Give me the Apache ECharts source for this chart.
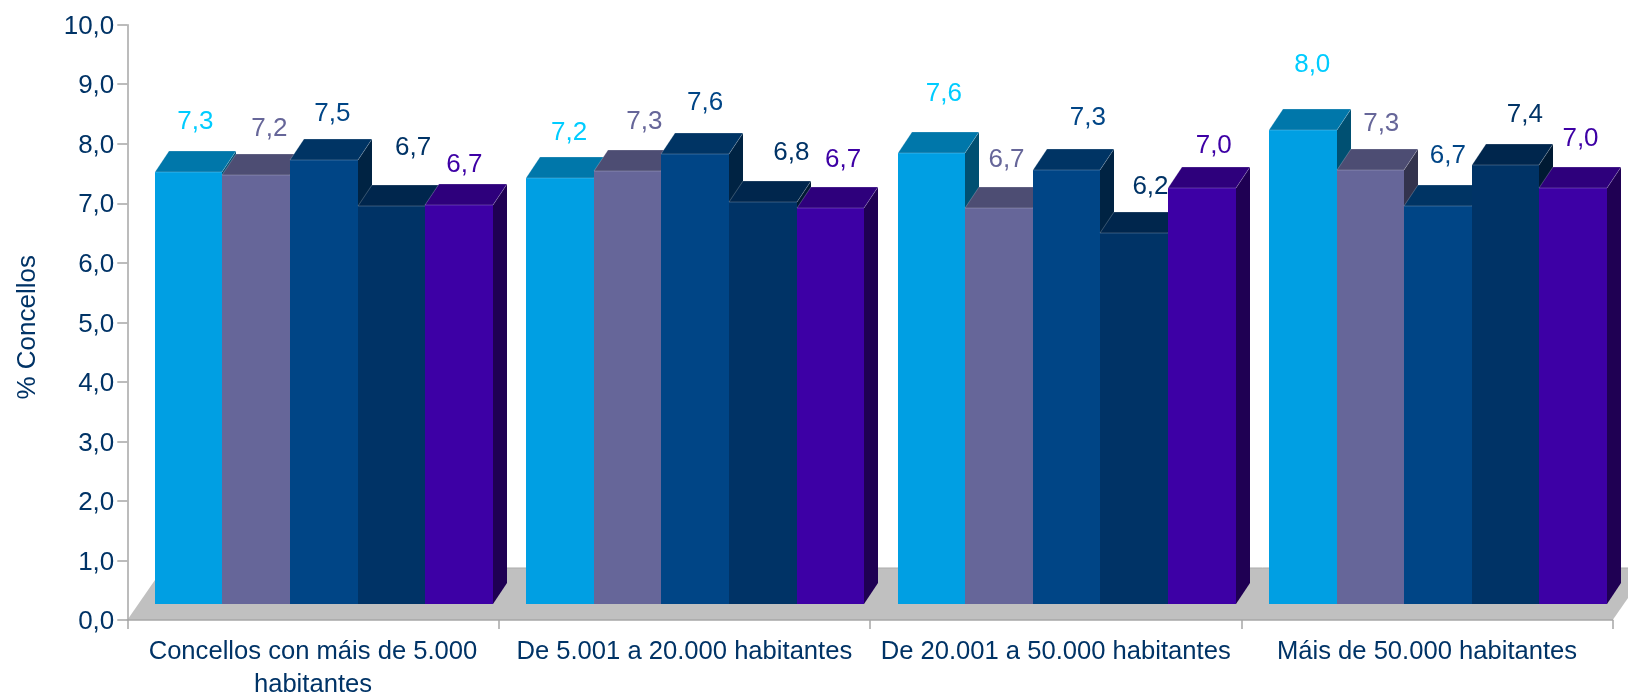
<!DOCTYPE html>
<html>
<head>
<meta charset="utf-8">
<style>html,body{margin:0;padding:0;background:#fff}#c{width:1628px;height:696px}</style>
<script src="https://cdn.jsdelivr.net/npm/echarts@6/dist/echarts.min.js"></script>
</head>
<body>
<div id="c"></div>
<script>
// ---- data (bar heights carry more precision than the printed labels) ----
const categories = ['Concellos con máis de 5.000 habitantes', 'De 5.001 a 20.000 habitantes', 'De 20.001 a 50.000 habitantes', 'Máis de 50.000 habitantes'];
const serieA = [7.26, 7.16, 7.58, 7.97];
const serieB = [7.21, 7.27, 6.65, 7.29];
const serieC = [7.46, 7.56, 7.29, 6.69];
const serieD = [6.69, 6.75, 6.23, 7.37];
const serieE = [6.71, 6.66, 6.98, 6.98];
const seriesValues = [serieA, serieB, serieC, serieD, serieE];

// ---- styling ----
const FRONT = ['#009FE3', '#666699', '#004586', '#003366', '#3D00A5'];
const TOP   = ['#0077AA', '#4D4D73', '#003464', '#00264D', '#2E007C'];
const SIDE  = ['#005072', '#33334D', '#002343', '#001A33', '#1F0053'];
const LABEL = ['#00CCFF', '#666699', '#004586', '#003366', '#3D00A5'];
const TEXT = '#003366', AXIS = '#A6A6A6', FLOOR = '#C0C0C0';
const FONT = '"Liberation Sans", Arial, sans-serif';

// label placement relative to the front-top-centre of each bar (one row per series, one column per category)
const LABEL_DX = [[6.7, 9.1, 12.4, 9.5], [13.1, 16.8, 7.5, 10.9], [8.5, 9.9, 21.2, 9.9], [21.6, 28.6, 16.3, 19.3], [5.3, 12.7, 12, 7.4]];
const LABEL_DY = [[-50.6, -45.4, -59.4, -65], [-46, -49.3, -48.3, -46.3], [-46, -51.3, -52.6, -49.7], [-58.3, -49, -46.6, -49.7], [-40.3, -48, -42.3, -49]];

// 3D projection constants
const BAR_SHARE = 0.182, SHIFT_X = 10.9, BASE_LIFT = 16, DEPTH_X = 14, DEPTH_Y = 21, FLOOR_X = 36, FLOOR_Y = 52;
const WRAP_OVER = 30;
const fmt = v => v.toFixed(1).replace('.', ',');
const wrapCategory = t => {
  if (t.length <= WRAP_OVER) return t;
  const cut = t.lastIndexOf(' ');
  return t.slice(0, cut) + '\n' + t.slice(cut + 1);
};

function barGeom(api, s) {
  const c = api.value(0), v = api.value(1);
  const band = api.size([1, 0])[0];
  const w = band * BAR_SHARE;
  const p = api.coord([c, v]), z = api.coord([c, 0]);
  const cx = p[0] + SHIFT_X + (s - 2) * w;
  return {cx, l: Math.round(cx - w / 2), r: Math.round(cx + w / 2), t: Math.round(p[1] - BASE_LIFT), b: Math.round(z[1] - BASE_LIFT)};
}
function barItem(s) {
  return function (params, api) {
    const g = barGeom(api, s);
    const edge = {stroke: 'rgba(255,255,255,0.22)', lineWidth: 1, fill: null};
    return {type: 'group', children: [
      {type: 'polygon', shape: {points: [[g.r, g.t], [g.r + DEPTH_X, g.t - DEPTH_Y], [g.r + DEPTH_X, g.b - DEPTH_Y], [g.r, g.b]]}, style: {fill: SIDE[s]}},
      {type: 'polygon', shape: {points: [[g.l, g.t], [g.l + DEPTH_X, g.t - DEPTH_Y], [g.r + DEPTH_X, g.t - DEPTH_Y], [g.r, g.t]]}, style: {fill: TOP[s]}},
      {type: 'rect', shape: {x: g.l, y: g.t, width: g.r - g.l, height: g.b - g.t}, style: {fill: FRONT[s]}},
      {type: 'polyline', shape: {points: [[g.l, g.t], [g.l + DEPTH_X, g.t - DEPTH_Y], [g.r + DEPTH_X, g.t - DEPTH_Y]]}, style: edge},
      {type: 'polyline', shape: {points: [[g.l, g.t], [g.r, g.t], [g.r + DEPTH_X, g.t - DEPTH_Y]]}, style: edge}
    ]};
  };
}
function labelItem(s) {
  return function (params, api) {
    const g = barGeom(api, s), i = params.dataIndex;
    return {type: 'text', style: {
      text: fmt(api.value(1)), x: g.cx + LABEL_DX[s][i], y: g.t + LABEL_DY[s][i],
      fill: LABEL[s], font: '26px ' + FONT, textAlign: 'center', textVerticalAlign: 'middle'
    }};
  };
}
function floorItem(params, api) {
  const band = api.size([1, 0])[0];
  const a = api.coord([0, 0]), x0 = a[0] - band / 2, x1 = x0 + band * categories.length, y = a[1];
  return {type: 'group', children: [
    {type: 'polygon', shape: {points: [[x0, y], [x1, y], [x1 + FLOOR_X, y - FLOOR_Y], [x0 + FLOOR_X, y - FLOOR_Y]]}, style: {fill: FLOOR}},
    {type: 'line', shape: {x1: x0 + FLOOR_X, y1: y - FLOOR_Y, x2: x1 + FLOOR_X, y2: y - FLOOR_Y}, style: {stroke: '#ABABAB', lineWidth: 1}}
  ]};
}
const toPairs = vals => vals.map((v, i) => [i, v]);

const chart = echarts.init(document.getElementById('c'), null, {renderer: 'canvas'});
chart.setOption({
  animation: false,
  backgroundColor: '#fff',
  grid: {left: 127.3, top: 24.7, width: 1485.4, height: 595.3, containLabel: false, outerBoundsMode: 'none'},
  tooltip: {show: false},
  xAxis: {
    type: 'category', data: categories, z: 3,
    axisLine: {lineStyle: {color: AXIS, width: 1.5}},
    axisTick: {show: true, length: 9, alignWithLabel: false, lineStyle: {color: AXIS, width: 1.5}},
    axisLabel: {interval: 0, color: TEXT, fontFamily: FONT, fontSize: 25.6, margin: 16, lineHeight: 32.5, align: 'center', formatter: wrapCategory},
    splitLine: {show: false}
  },
  yAxis: {
    type: 'value', min: 0, max: 10, interval: 1, z: 3,
    name: '% Concellos', nameLocation: 'middle', nameGap: 86, nameRotate: 90,
    nameTextStyle: {color: TEXT, fontFamily: FONT, fontSize: 26, padding: [0, 10, 0, 0]},
    axisLine: {show: true, lineStyle: {color: AXIS, width: 1.5}},
    axisTick: {show: true, length: 10, lineStyle: {color: AXIS, width: 1.5}},
    axisLabel: {color: TEXT, fontFamily: FONT, fontSize: 26, margin: 13, verticalAlign: 'top', lineHeight: 4, formatter: fmt},
    splitLine: {show: false}
  },
  series: [
    {type: 'custom', z: 1, silent: true, renderItem: floorItem, data: [[0, 0]], encode: {x: 0, y: 1}, clip: false}
  ].concat(
    seriesValues.map((vals, s) => ({type: 'custom', z: 2, silent: true, renderItem: barItem(s), data: toPairs(vals), encode: {x: 0, y: 1}, clip: false})),
    seriesValues.map((vals, s) => ({type: 'custom', z: 5, silent: true, renderItem: labelItem(s), data: toPairs(vals), encode: {x: 0, y: 1}, clip: false}))
  )
});
</script>
</body>
</html>
